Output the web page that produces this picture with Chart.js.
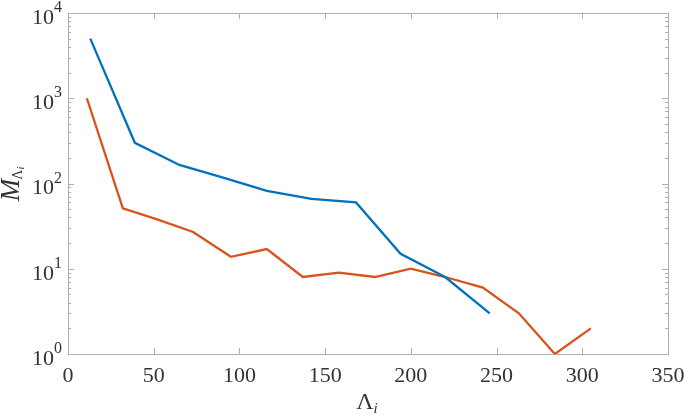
<!DOCTYPE html>
<html>
<head>
<meta charset="utf-8">
<script src="https://cdn.jsdelivr.net/npm/chart.js@4"></script>
<style>
  body { margin: 0; background: #fff; }
</style>
</head>
<body>
<canvas id="grafico" width="685" height="415"></canvas>
<script>
// dados
const xAzul = [13, 39, 65, 90, 116, 142, 168, 194, 220, 246];
const yAzul = [5000, 300, 165, 118, 82, 66, 60, 15, 8, 3];
const xLaranja = [11, 32, 52, 73, 95, 116, 137, 158, 179, 200, 220, 242, 263, 284, 305];
const yLaranja = [1000, 51, 38, 27, 13.8, 17, 8, 9, 8, 10, 8, 6, 3, 1, 2];
const xTicks = [0, 50, 100, 150, 200, 250, 300, 350];
const yExpoentes = [0, 1, 2, 3, 4];

const fonte = '"Liberation Serif", "Times New Roman", serif';
const corTexto = '#333333';
const corEixo = '#b0b0b0';

const pontos = (xs, ys) => xs.map((x, i) => ({ x, y: ys[i] }));

// desenha caixa, marcas internas, rótulos e títulos no estilo MATLAB
const eixosMatlab = {
    id: 'eixosMatlab',
    afterDraw(chart) {
        const { ctx, chartArea: a, scales } = chart;
        const sx = scales.x, sy = scales.y;
        ctx.save();
        ctx.strokeStyle = corEixo;
        ctx.lineWidth = 1;
        ctx.strokeRect(a.left + 0.5, a.top + 0.5, a.right - a.left, a.bottom - a.top);

        ctx.beginPath();
        xTicks.forEach(v => {
            const px = Math.round(sx.getPixelForValue(v)) + 0.5;
            ctx.moveTo(px, a.bottom); ctx.lineTo(px, a.bottom - 6);
            ctx.moveTo(px, a.top); ctx.lineTo(px, a.top + 6);
        });
        yExpoentes.forEach(e => {
            for (let m = 1; m <= 9; m++) {
                const v = m * Math.pow(10, e);
                if (v > sy.max) break;
                const py = Math.round(sy.getPixelForValue(v)) + 0.5;
                const len = m === 1 ? 6 : 3;
                ctx.moveTo(a.left, py); ctx.lineTo(a.left + len, py);
                ctx.moveTo(a.right, py); ctx.lineTo(a.right - len, py);
            }
        });
        ctx.stroke();

        ctx.fillStyle = corTexto;
        ctx.font = '22px ' + fonte;
        ctx.textAlign = 'center';
        ctx.textBaseline = 'middle';
        xTicks.forEach(v => {
            ctx.fillText(String(v), sx.getPixelForValue(v), a.bottom + 22);
        });

        yExpoentes.forEach(e => {
            const py = sy.getPixelForValue(Math.pow(10, e));
            ctx.font = '16px ' + fonte;
            const we = ctx.measureText(String(e)).width;
            ctx.textAlign = 'right';
            ctx.fillText(String(e), a.left - 6, py - 5);
            ctx.font = '22px ' + fonte;
            ctx.fillText('10', a.left - 6 - we, py + 5);
        });

        // título x: Λ_i
        ctx.textAlign = 'left';
        ctx.textBaseline = 'alphabetic';
        ctx.font = '24px ' + fonte;
        const wL = ctx.measureText('Λ').width;
        ctx.font = 'italic 15px ' + fonte;
        const wi = ctx.measureText('i').width;
        const cx = (a.left + a.right) / 2;
        let x0 = cx - (wL + wi) / 2 - 1;
        ctx.font = '24px ' + fonte;
        ctx.fillText('Λ', x0, 409);
        ctx.font = 'italic 15px ' + fonte;
        ctx.fillText('i', x0 + wL, 413);

        // título y: M_{Λ_i}
        ctx.translate(19, (a.top + a.bottom) / 2);
        ctx.rotate(-Math.PI / 2);
        ctx.font = 'italic 27px ' + fonte;
        const wM = ctx.measureText('M').width;
        ctx.font = '14px ' + fonte;
        const wL2 = ctx.measureText('Λ').width;
        ctx.font = 'italic 10px ' + fonte;
        const wi2 = ctx.measureText('i').width;
        x0 = -(wM + wL2 + wi2) / 2;
        ctx.font = 'italic 27px ' + fonte;
        ctx.fillText('M', x0, 0);
        ctx.font = '14px ' + fonte;
        ctx.fillText('Λ', x0 + wM - 1, 3);
        ctx.font = 'italic 10px ' + fonte;
        ctx.fillText('i', x0 + wM + wL2 - 1, 5);
        ctx.restore();
    }
};

new Chart(document.getElementById('grafico').getContext('2d'), {
    type: 'line',
    data: {
        datasets: [{
            data: pontos(xAzul, yAzul),
            borderColor: '#0072BD',
            borderWidth: 2.3,
            pointRadius: 0,
            tension: 0,
            clip: false
        }, {
            data: pontos(xLaranja, yLaranja),
            borderColor: '#D95319',
            borderWidth: 2.3,
            pointRadius: 0,
            tension: 0,
            clip: false
        }]
    },
    options: {
        responsive: false,
        devicePixelRatio: 1,
        animation: false,
        layout: { padding: { left: 68, right: 17, top: 13, bottom: 61 } },
        plugins: { legend: { display: false }, tooltip: { enabled: false } },
        scales: {
            x: { type: 'linear', min: 0, max: 350, display: false },
            y: { type: 'logarithmic', min: 1, max: 10000, display: false }
        }
    },
    plugins: [eixosMatlab]
});
</script>
</body>
</html>
